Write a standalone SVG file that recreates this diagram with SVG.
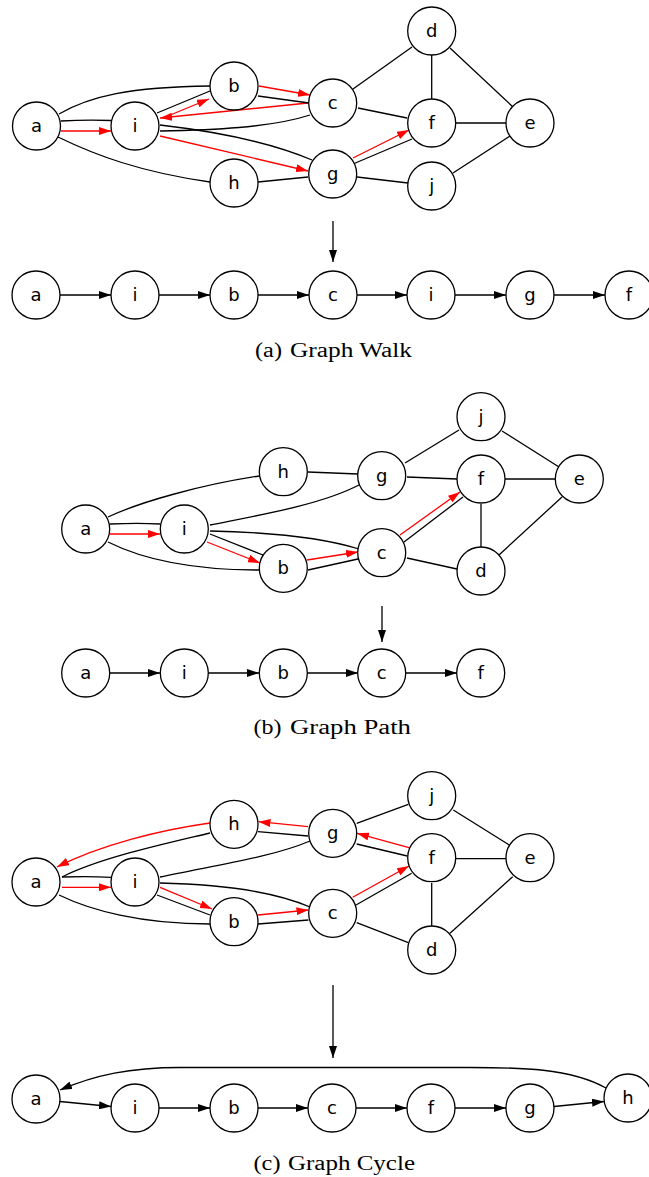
<svg xmlns="http://www.w3.org/2000/svg" width="649" height="1177" viewBox="0 0 649 1177">
<style>
  .n circle { fill: #fff; stroke: #000; stroke-width: 1.3; }
  .n text { font-family: "DejaVu Sans", sans-serif; font-size: 18px; text-anchor: middle; fill: #000; }
  .e { fill: none; stroke: #000; stroke-width: 1.3; }
  .ea { fill: none; stroke: #000; stroke-width: 1.3; marker-end: url(#ab); }
  .r { fill: none; stroke: #f00; stroke-width: 1.3; marker-end: url(#ar); }
  .cap { font-family: "Liberation Serif", serif; font-size: 20px; text-anchor: start; fill: #000; }
</style>
<defs>
  <marker id="ab" viewBox="0 0 12 8" refX="12" refY="4" markerWidth="12" markerHeight="8" markerUnits="userSpaceOnUse" orient="auto">
    <path d="M0,0 L12,4 L0,8 z" fill="#000"/>
  </marker>
  <marker id="ar" viewBox="0 0 12 8" refX="12" refY="4" markerWidth="12" markerHeight="8" markerUnits="userSpaceOnUse" orient="auto">
    <path d="M0,0 L12,4 L0,8 z" fill="#f00"/>
  </marker>
</defs>
<rect width="649" height="1177" fill="#fff"/>

<!-- ===== (a) walk ===== -->
<g id="walk-edges">
  <path class="e" d="M59,114 C90,96 130,87 210,86"/>
  <path class="e" d="M61,121 C80,120 95,120 111,120.5"/>
  <path class="r" d="M61,131 L111,131"/>
  <path class="e" d="M58,137 C95,155 140,172 210,182"/>
  <path class="e" d="M157,113 L210,91"/>
  <path class="r" d="M163,118 L209,99"/>
  <path class="r" d="M308,103 L160,118"/>
  <path class="e" d="M258,96 L309,103"/>
  <path class="r" d="M259,86 L310,95"/>
  <path class="e" d="M160,131 C210,130 270,128 310,115"/>
  <path class="e" d="M160,125 C220,132 270,142 312,160"/>
  <path class="r" d="M160,136 L308,171"/>
  <path class="e" d="M258,182 L308,177"/>
  <path class="e" d="M353,89 L412,47"/>
  <path class="e" d="M358,108 L407,118"/>
  <path class="r" d="M353,158 L409,130"/>
  <path class="e" d="M353,164 L412,139"/>
  <path class="e" d="M357,177 L408,183"/>
  <path class="e" d="M431.7,55 L431.7,99"/>
  <path class="e" d="M450,48 L513,107"/>
  <path class="e" d="M456,123 L506,123"/>
  <path class="e" d="M453,173 L510,136"/>
  <!-- down arrow to sequence -->
  <path class="ea" d="M333,221 L333,262"/>
  <!-- sequence -->
  <path class="ea" d="M60,295 L111,295"/>
  <path class="ea" d="M159,295 L210,295"/>
  <path class="ea" d="M258,295 L309,295"/>
  <path class="ea" d="M357,295 L407,295"/>
  <path class="ea" d="M455,295 L506,295"/>
  <path class="ea" d="M554,295 L605,295"/>
</g>
<g id="walk-a" class="n"><circle cx="36.5" cy="126" r="24"/><text x="36.5" y="132">a</text></g>
<g id="walk-i" class="n"><circle cx="135" cy="126" r="24"/><text x="135" y="132">i</text></g>
<g id="walk-b" class="n"><circle cx="234" cy="86" r="24"/><text x="234" y="92">b</text></g>
<g id="walk-h" class="n"><circle cx="234" cy="183" r="24"/><text x="234" y="189">h</text></g>
<g id="walk-c" class="n"><circle cx="332.7" cy="103" r="24"/><text x="332.7" y="109">c</text></g>
<g id="walk-g" class="n"><circle cx="332.7" cy="174" r="24"/><text x="332.7" y="180">g</text></g>
<g id="walk-d" class="n"><circle cx="431.7" cy="31" r="24"/><text x="431.7" y="37">d</text></g>
<g id="walk-f" class="n"><circle cx="431.7" cy="123" r="24"/><text x="431.7" y="129">f</text></g>
<g id="walk-e" class="n"><circle cx="530" cy="123" r="24"/><text x="530" y="129">e</text></g>
<g id="walk-j" class="n"><circle cx="431.7" cy="186" r="24"/><text x="431.7" y="192">j</text></g>

<g id="walk-s1" class="n"><circle cx="36" cy="295" r="24"/><text x="36" y="301">a</text></g>
<g id="walk-s2" class="n"><circle cx="135" cy="295" r="24"/><text x="135" y="301">i</text></g>
<g id="walk-s3" class="n"><circle cx="234" cy="295" r="24"/><text x="234" y="301">b</text></g>
<g id="walk-s4" class="n"><circle cx="333" cy="295" r="24"/><text x="333" y="301">c</text></g>
<g id="walk-s5" class="n"><circle cx="431" cy="295" r="24"/><text x="431" y="301">i</text></g>
<g id="walk-s6" class="n"><circle cx="530" cy="295" r="24"/><text x="530" y="301">g</text></g>
<g id="walk-s7" class="n"><circle cx="629" cy="295" r="24"/><text x="629" y="301">f</text></g>
<g id="walk-caption">
  <text class="cap" x="255" y="357" textLength="27" lengthAdjust="spacingAndGlyphs">(a)</text>
  <text class="cap" x="290" y="357" textLength="122" lengthAdjust="spacingAndGlyphs">Graph Walk</text>
</g>

<!-- ===== (b) path ===== -->
<g id="path-edges">
  <path class="e" d="M108,517 C140,502 200,485 259,476"/>
  <path class="e" d="M110,524 C130,523 145,523 160,524"/>
  <path class="r" d="M110,534 L160,534"/>
  <path class="e" d="M108,542 C140,558 190,570 259,570"/>
  <path class="e" d="M210,525 C260,515 320,505 359,485"/>
  <path class="e" d="M210,531 C260,532 320,537 359,549"/>
  <path class="e" d="M210,534 L263,555"/>
  <path class="r" d="M207,542 L260,563"/>
  <path class="e" d="M308,472 L358,474"/>
  <path class="r" d="M307,560 L358,552"/>
  <path class="e" d="M308,570 L358,559"/>
  <path class="e" d="M405,463 L459,430"/>
  <path class="e" d="M407,477 L457,479"/>
  <path class="r" d="M400,535 L460,492"/>
  <path class="e" d="M404,542 L463,497"/>
  <path class="e" d="M407,558 L457,569"/>
  <path class="e" d="M481,504 L481,547"/>
  <path class="e" d="M505,479 L556,479"/>
  <path class="e" d="M502,431 L559,467"/>
  <path class="e" d="M499,555 L562,497"/>
  <path class="ea" d="M382,606 L382,642"/>
  <path class="ea" d="M110,673 L160,673"/>
  <path class="ea" d="M208,673 L259,673"/>
  <path class="ea" d="M307,673 L358,673"/>
  <path class="ea" d="M406,673 L457,673"/>
</g>
<g id="path-a" class="n"><circle cx="85.7" cy="529" r="24"/><text x="85.7" y="535">a</text></g>
<g id="path-i" class="n"><circle cx="184.3" cy="529" r="24"/><text x="184.3" y="535">i</text></g>
<g id="path-h" class="n"><circle cx="283.3" cy="471.7" r="24"/><text x="283.3" y="477.7">h</text></g>
<g id="path-b" class="n"><circle cx="283.3" cy="568.3" r="24"/><text x="283.3" y="574.3">b</text></g>
<g id="path-g" class="n"><circle cx="381.7" cy="475.7" r="24"/><text x="381.7" y="481.7">g</text></g>
<g id="path-c" class="n"><circle cx="381.7" cy="552.7" r="24"/><text x="381.7" y="558.7">c</text></g>
<g id="path-j" class="n"><circle cx="481" cy="416.7" r="24"/><text x="481" y="422.7">j</text></g>
<g id="path-f" class="n"><circle cx="481" cy="479" r="24"/><text x="481" y="485">f</text></g>
<g id="path-d" class="n"><circle cx="481" cy="571" r="24"/><text x="481" y="577">d</text></g>
<g id="path-e" class="n"><circle cx="579.3" cy="479" r="24"/><text x="579.3" y="485">e</text></g>

<g id="path-s1" class="n"><circle cx="85.7" cy="673" r="24"/><text x="85.7" y="679">a</text></g>
<g id="path-s2" class="n"><circle cx="184.3" cy="673" r="24"/><text x="184.3" y="679">i</text></g>
<g id="path-s3" class="n"><circle cx="283.3" cy="673" r="24"/><text x="283.3" y="679">b</text></g>
<g id="path-s4" class="n"><circle cx="381.7" cy="673" r="24"/><text x="381.7" y="679">c</text></g>
<g id="path-s5" class="n"><circle cx="480.7" cy="673" r="24"/><text x="480.7" y="679">f</text></g>
<g id="path-caption">
  <text class="cap" x="253.5" y="734" textLength="28" lengthAdjust="spacingAndGlyphs">(b)</text>
  <text class="cap" x="290" y="734" textLength="121" lengthAdjust="spacingAndGlyphs">Graph Path</text>
</g>

<!-- ===== (c) cycle ===== -->
<g id="cycle-edges">
  <path class="r" d="M210,823 C160,830 100,845 57,867"/>
  <path class="e" d="M210,833 C160,845 100,858 62,877"/>
  <path class="e" d="M62,877 C80,876.5 95,876.5 111,877.3"/>
  <path class="r" d="M62,887.3 L111,887.3"/>
  <path class="e" d="M59,895 C90,910 140,924 210,924"/>
  <path class="e" d="M160,877 C210,866 270,858 310,841"/>
  <path class="e" d="M160,883 C210,884 270,890 310,907"/>
  <path class="r" d="M160,887.3 L212,909"/>
  <path class="e" d="M157,895 L210,915"/>
  <path class="e" d="M258,831.7 L308,836"/>
  <path class="r" d="M308,826.7 L258.5,821.7"/>
  <path class="r" d="M258,915 L308.5,910"/>
  <path class="e" d="M258,924 L308.5,920"/>
  <path class="e" d="M356.7,823.3 L408.3,804.3"/>
  <path class="r" d="M409,847.7 L357,833.3"/>
  <path class="e" d="M356.7,844 L407.3,856"/>
  <path class="r" d="M352.7,897.3 L409,866"/>
  <path class="e" d="M356,905 L411.7,873.3"/>
  <path class="e" d="M356.7,922.7 L408.3,942.7"/>
  <path class="e" d="M431.7,883 L431.7,926"/>
  <path class="e" d="M455.7,858.7 L506,858.7"/>
  <path class="e" d="M453.3,810 L509.3,845"/>
  <path class="e" d="M450,933.3 L512.7,876.7"/>
  <path class="ea" d="M333,985 L333,1058"/>
  <path class="ea" d="M60,1101.5 L111,1106.5"/>
  <path class="ea" d="M159,1108 L210,1108"/>
  <path class="ea" d="M258,1108 L308,1108"/>
  <path class="ea" d="M356,1108 L407,1108"/>
  <path class="ea" d="M455,1108 L506,1108"/>
  <path class="ea" d="M554,1106.5 L604,1101.5"/>
  <path class="ea" d="M606,1088 C570,1068 520,1067.5 470,1067.5 L180,1067.5 C130,1067.5 95,1075 60,1090"/>
</g>
<g id="cycle-h" class="n"><circle cx="234" cy="824.3" r="24"/><text x="234" y="830.3">h</text></g>
<g id="cycle-a" class="n"><circle cx="36" cy="882" r="24"/><text x="36" y="888">a</text></g>
<g id="cycle-i" class="n"><circle cx="135" cy="882" r="24"/><text x="135" y="888">i</text></g>
<g id="cycle-b" class="n"><circle cx="234" cy="921.7" r="24"/><text x="234" y="927.7">b</text></g>
<g id="cycle-j" class="n"><circle cx="431.7" cy="795.7" r="24"/><text x="431.7" y="801.7">j</text></g>
<g id="cycle-g" class="n"><circle cx="332.7" cy="833.3" r="24"/><text x="332.7" y="839.3">g</text></g>
<g id="cycle-f" class="n"><circle cx="431.7" cy="857.7" r="24"/><text x="431.7" y="863.7">f</text></g>
<g id="cycle-e" class="n"><circle cx="530" cy="857.7" r="24"/><text x="530" y="863.7">e</text></g>
<g id="cycle-c" class="n"><circle cx="332.7" cy="913.3" r="24"/><text x="332.7" y="919.3">c</text></g>
<g id="cycle-d" class="n"><circle cx="431.7" cy="950" r="24"/><text x="431.7" y="956">d</text></g>

<g id="cycle-s1" class="n"><circle cx="36" cy="1099" r="24"/><text x="36" y="1105">a</text></g>
<g id="cycle-s2" class="n"><circle cx="135" cy="1108" r="24"/><text x="135" y="1114">i</text></g>
<g id="cycle-s3" class="n"><circle cx="234" cy="1108" r="24"/><text x="234" y="1114">b</text></g>
<g id="cycle-s4" class="n"><circle cx="332" cy="1108" r="24"/><text x="332" y="1114">c</text></g>
<g id="cycle-s5" class="n"><circle cx="431" cy="1108" r="24"/><text x="431" y="1114">f</text></g>
<g id="cycle-s6" class="n"><circle cx="530" cy="1108" r="24"/><text x="530" y="1114">g</text></g>
<g id="cycle-s7" class="n"><circle cx="628" cy="1098" r="24"/><text x="628" y="1104">h</text></g>
<g id="cycle-caption">
  <text class="cap" x="253.5" y="1170" textLength="27" lengthAdjust="spacingAndGlyphs">(c)</text>
  <text class="cap" x="288" y="1170" textLength="127" lengthAdjust="spacingAndGlyphs">Graph Cycle</text>
</g>
</svg>
